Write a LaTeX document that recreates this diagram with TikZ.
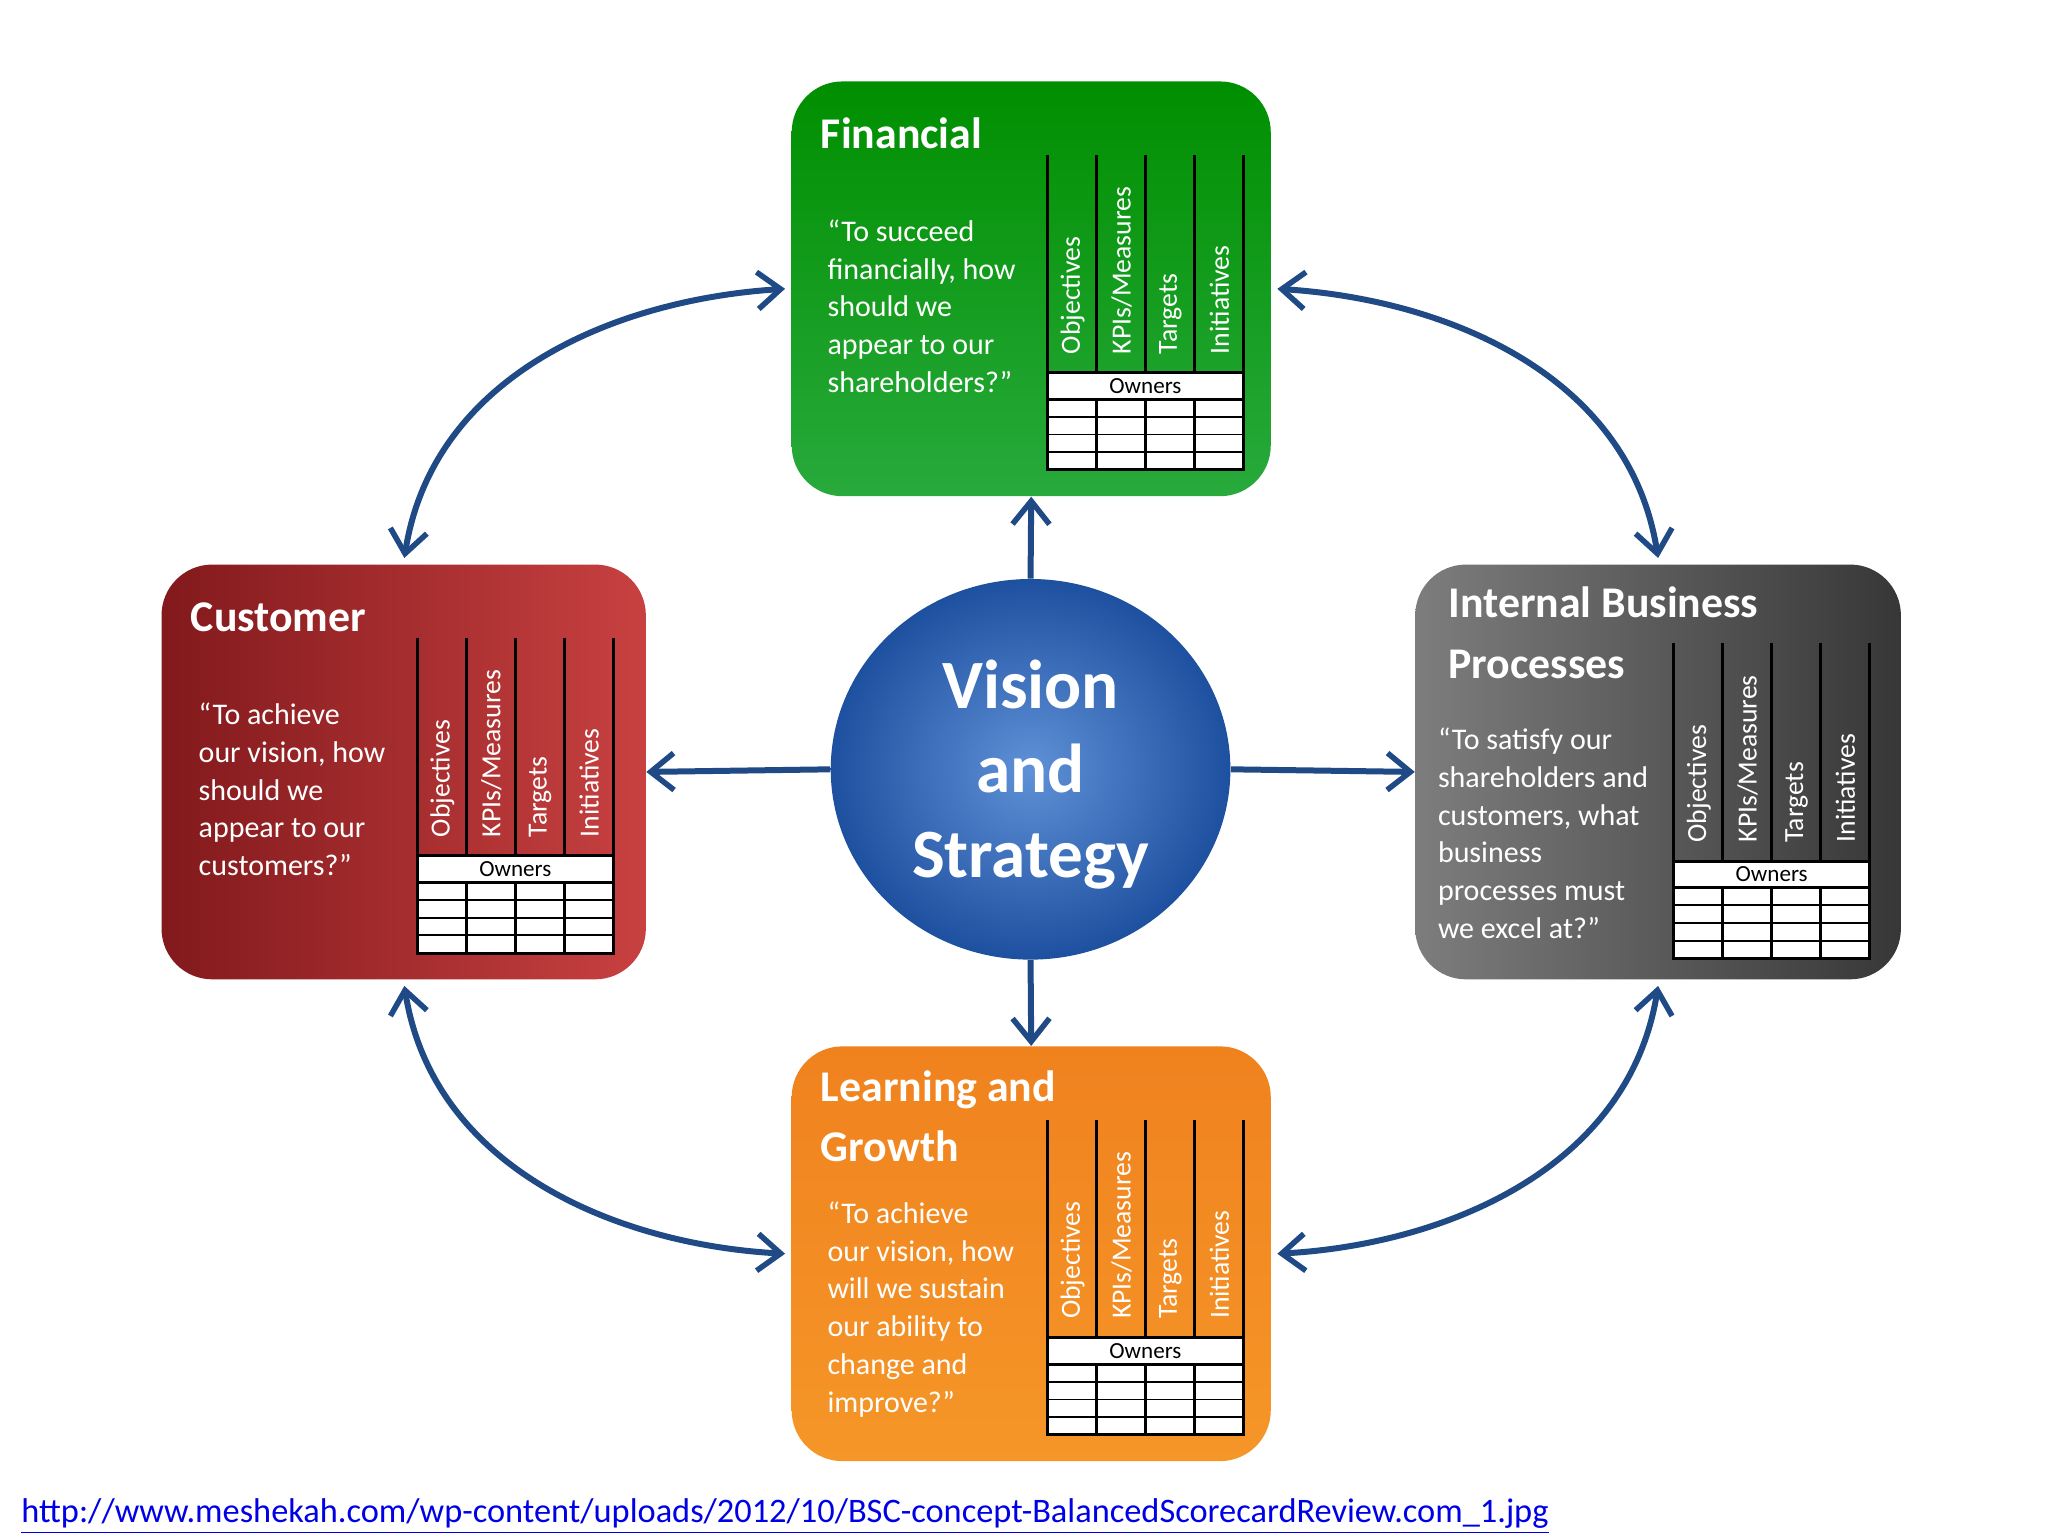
\documentclass[tikz,border=0pt]{standalone}
\usepackage{fontspec}
\setmainfont{Carlito}
\usetikzlibrary{arrows.meta}
\definecolor{arr}{HTML}{1F4A86}
\tikzset{
  bscarrow/.style={draw=arr,line width=2.6pt,{Straight Barb[length=10pt,width=16pt,line width=2.4pt]}-{Straight Barb[length=10pt,width=16pt,line width=2.4pt]}},
  onearrow/.style={draw=arr,line width=2.6pt,-{Straight Barb[length=10pt,width=16pt,line width=2.4pt]}},
  title/.style={text=white,font=\bfseries\fontsize{19}{24}\selectfont,anchor=base west,inner sep=0pt},
  quote/.style={text=white,font=\fontsize{13}{16.4}\selectfont,anchor=north west,align=left,inner sep=0pt},
  collab/.style={text=white,font=\fontsize{12}{14}\selectfont,rotate=90,anchor=west,inner sep=0pt},
  tabline/.style={draw=black,line width=1.3pt},
}
\newcommand{\bsctable}[2]{%
  \begin{scope}[shift={(#1,#2)}]
    \foreach \c/\t in {0/{Objectives},1/{KPIs/Measures},2/{Targets},3/{Initiatives}}
      \node[collab] at (195+37.25*\c+19,208) {\t};
    \fill[white] (195,222) rectangle (344,296);
    \foreach \c in {0,...,4} {\draw[tabline] (195+37.25*\c,56) -- (195+37.25*\c,222);
      \draw[tabline] (195+37.25*\c,242) -- (195+37.25*\c,296);}
    \draw[tabline] (195,222) rectangle (344,296);
    \draw[tabline] (195,242) -- (344,242);
    \foreach \r in {255.5,269,282.5} \draw[draw=black,line width=0.8pt] (195,\r) -- (344,\r);
    \node[font=\fontsize{10}{12}\selectfont,inner sep=0pt] at (269.5,232) {Owners};
  \end{scope}}
\begin{document}
\begin{tikzpicture}[x=0.02cm,y=-0.02cm]
\useasboundingbox[fill=white] (0,0) rectangle (1560,1170);
% boxes
\node[rounded corners=22pt,minimum width=7.3cm,minimum height=6.32cm,top color=green!45!black!80!green,bottom color={rgb,255:red,40;green,170;blue,60},inner sep=0pt] (fin) at (785.5,220) {};
\node[rounded corners=22pt,minimum width=7.38cm,minimum height=6.32cm,left color={rgb,255:red,130;green,25;blue,28},right color={rgb,255:red,200;green,65;blue,65},inner sep=0pt] (cus) at (307.5,588) {};
\node[rounded corners=22pt,minimum width=7.4cm,minimum height=6.32cm,left color={rgb,255:red,125;green,125;blue,125},right color={rgb,255:red,55;green,55;blue,55},inner sep=0pt] (ibp) at (1263,588) {};
\node[rounded corners=22pt,minimum width=7.3cm,minimum height=6.32cm,top color={rgb,255:red,240;green,130;blue,30},bottom color={rgb,255:red,245;green,150;blue,40},inner sep=0pt] (lag) at (785.5,955) {};
% tables
\bsctable{603}{62}
\bsctable{123}{430}
\bsctable{1080}{434}
\bsctable{603}{797}
% titles
\node[title] (tfin) at (625,113) {Financial};
\node[title] (tcus) at (145,481) {Customer};
\node[title] (tibp1) at (1103,470) {Internal Business};
\node[title] (tibp2) at (1103,517) {Processes};
\node[title] (tlag1) at (625,839) {Learning and};
\node[title] (tlag2) at (625,885) {Growth};
% quotes
\node[quote] (qfin) at (630,167) {“To succeed\\financially, how\\should we\\appear to our\\shareholders?”};
\node[quote] (qcus) at (151,535) {“To achieve\\our vision, how\\should we\\appear to our\\customers?”};
\node[quote] (qibp) at (1095,554) {“To satisfy our\\shareholders and\\customers, what\\business\\processes must\\we excel at?”};
\node[quote] (qlag) at (630,915) {“To achieve\\our vision, how\\will we sustain\\our ability to\\change and\\improve?”};
% circle
\node[circle,minimum size=5.8cm,xscale=1.05,inner color={rgb,255:red,95;green,145;blue,215},outer color={rgb,255:red,30;green,80;blue,160},inner sep=0pt] (vis) at (785,586) {};
\node[text=white,font=\bfseries\fontsize{30}{36.5}\selectfont,align=center,inner sep=0pt] (vtext) at (785,590) {Vision\\and\\Strategy};
% straight arrows
\draw[onearrow] (vis.north) -- (fin.south);
\draw[onearrow] (vis.west) -- (cus.east);
\draw[onearrow] (vis.east) -- (ibp.west);
\draw[onearrow] (vis.south) -- (lag.north);
% curved arrows
\coordinate (a1) at (308,425); \coordinate (b1) at (598,220);
\draw[bscarrow] (a1) .. controls (330,285) and (470,228) .. (b1);
\coordinate (a2) at (1263,425); \coordinate (b2) at (973,220);
\draw[bscarrow] (a2) .. controls (1241,285) and (1101,228) .. (b2);
\coordinate (a3) at (308,751); \coordinate (b3) at (598,955);
\draw[bscarrow] (a3) .. controls (330,890) and (470,948) .. (b3);
\coordinate (a4) at (1263,751); \coordinate (b4) at (973,955);
\draw[bscarrow] (a4) .. controls (1241,890) and (1101,948) .. (b4);
% url
\node[anchor=base west,inner sep=0pt,text={rgb,255:red,0;green,0;blue,230},font=\fontsize{14.9}{18}\selectfont] (url) at (16,1160) {\underline{http://www.meshekah.com/wp-content/uploads/2012/10/BSC-concept-BalancedScorecardReview.com\_1.jpg}};
\end{tikzpicture}
\end{document}
